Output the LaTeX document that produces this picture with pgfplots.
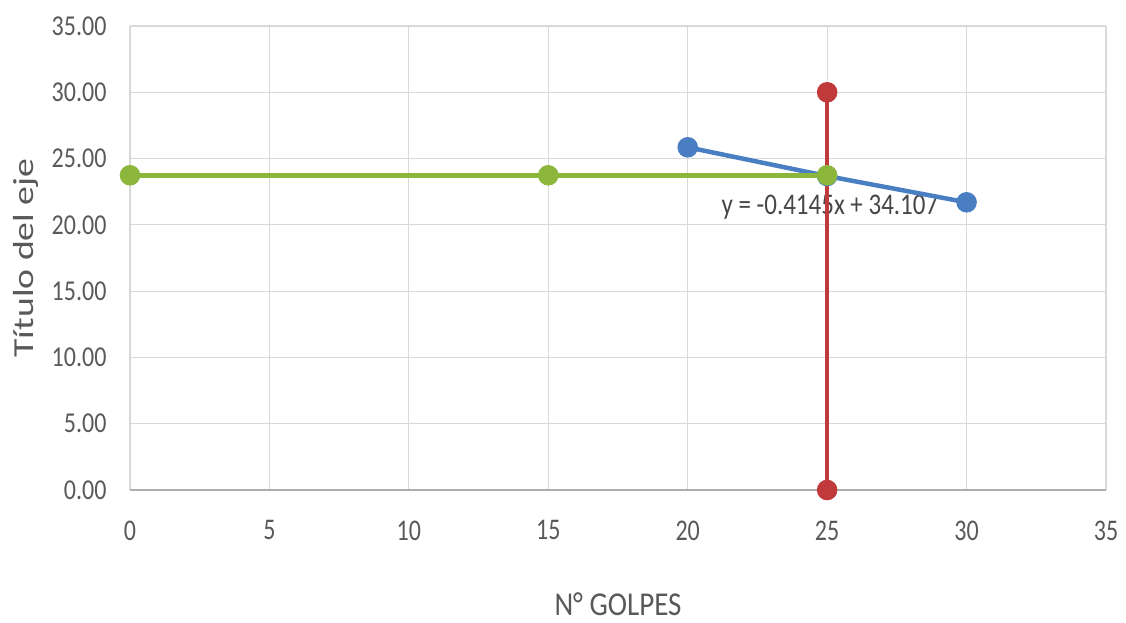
\documentclass[border=0pt]{standalone}
\usepackage{pgfplots}
\pgfplotsset{compat=1.18}
\usepackage{fontspec}
\setmainfont{Carlito}
\definecolor{xblue}{HTML}{4A7EC2}
\definecolor{xred}{HTML}{C0393B}
\definecolor{xgreen}{HTML}{8DB63C}
\definecolor{xgrid}{HTML}{D9D9D9}
\definecolor{xtext}{HTML}{595959}
\begin{document}
\begin{tikzpicture}
\begin{axis}[
  name=ax,
  scale only axis,
  width=976pt, height=464pt,
  xmin=0, xmax=35, ymin=0, ymax=35,
  xtick={0,5,...,35}, ytick={0,5,...,35},
  grid=major,
  major grid style={xgrid, line width=1.2pt},
  axis line style={draw=none},
  tick style={draw=none},
  clip=false,
  ticklabel style={font=\fontsize{24}{27}\selectfont, text=xtext},
  /pgf/number format/assume math mode=true,
  xticklabel={\scalebox{1}[1.25]{\pgfmathprintnumber{\tick}}},
  yticklabel={\scalebox{1}[1.2]{\pgfmathprintnumber[fixed, fixed zerofill, precision=2]{\tick}}},
  yticklabel style={xshift=-20pt},
  xticklabel style={yshift=-27pt},
  xlabel={\scalebox{1}[1.15]{N° GOLPES}},
  ylabel={\scalebox{1.3}[1]{Título del eje}},
  label style={font=\fontsize{29}{32}\selectfont, text=xtext},
  xlabel style={yshift=-46pt},
  ylabel style={yshift=6pt},
]
\draw[xgrid!80!black, line width=1.3pt] (rel axis cs:0,0) -- (rel axis cs:1,0);
\node[font=\fontsize{25}{28}\selectfont, text=black!72, anchor=center] at (axis cs:25.1,21.35) {\scalebox{1}[1.2]{y = -0.4145x + 34.107}};
\addplot[xblue, line width=4.5pt, mark=*, mark size=8pt] coordinates {(20,25.85) (25,23.68) (30,21.70)};
\addplot[xred, line width=4.5pt, mark=*, mark size=8pt] coordinates {(25,0) (25,30)};
\addplot[xgreen, line width=4.5pt, mark=*, mark size=8pt] coordinates {(0,23.74) (15,23.74) (25,23.74)};
\end{axis}
\pgfresetboundingbox
\path[use as bounding box] ([shift={(-130pt,-133pt)}]ax.south west) rectangle ([shift={(20pt,26pt)}]ax.north east);
\end{tikzpicture}
\end{document}
